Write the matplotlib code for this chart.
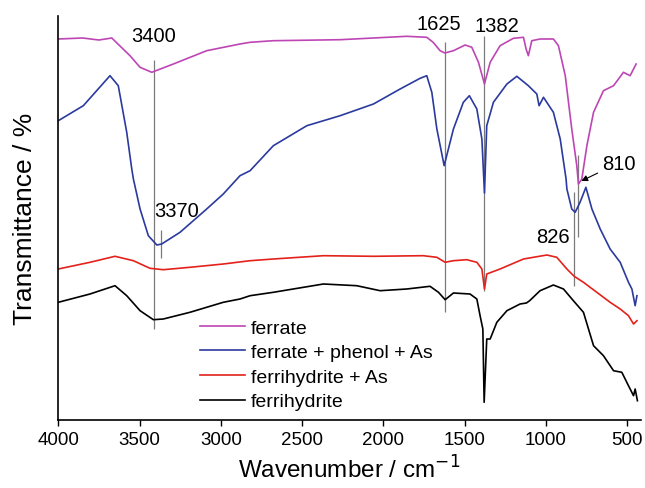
"""FTIR spectra of ferrate / ferrihydrite samples with marked bands"""

import matplotlib
matplotlib.use('Agg')
from matplotlib import pyplot as plt

plt.rcParams['font.family'] = ['Liberation Sans', 'DejaVu Sans']

# wavenumber (cm-1) and transmittance (arbitrary, offset traces)
ferrate_wn = [4000, 3850, 3750, 3671, 3559, 3497, 3425, 3292, 3087, 2882, 2820, 2677,
              2266, 1856, 1733, 1694, 1651, 1622, 1569, 1497, 1456, 1415, 1378, 1343,
              1282, 1200, 1138, 1122, 1108, 1087, 1036, 954, 923, 881, 841, 810, 800,
              779, 748, 707, 646, 584, 523, 482, 445]
ferrate_t = [386, 387, 385, 387, 369.3, 357.7, 352.7, 361, 374.3, 381, 382.7, 384.3,
             385.3, 388.7, 387.7, 382.7, 374.3, 372, 374.3, 380, 377.7, 362.7, 341, 362.7,
             379.3, 386.7, 387.7, 376, 369.3, 384.3, 386, 386, 379.3, 349.3, 296, 259.3, 241,
             246, 279.3, 312.7, 334.3, 339.3, 352.7, 349.3, 361]

phenol_wn = [4000, 3846, 3764, 3682, 3631, 3579, 3548, 3538, 3497, 3446, 3394, 3364,
             3251, 3087, 2985, 2882, 2820, 2677, 2471, 2266, 2061, 1897, 1774, 1733,
             1702, 1671, 1626, 1569, 1508, 1471, 1425, 1394, 1378, 1364, 1323, 1240,
             1179, 1108, 1056, 1042, 1015, 954, 912, 876, 871, 841, 820, 790, 754, 717,
             666, 605, 543, 492, 471, 451, 440]
phenol_t = [304.3, 319.3, 334.3, 349.3, 339.3, 292.7, 256, 246, 216, 189.3, 180, 181,
            192.7, 216, 231, 249.3, 254.3, 279.3, 299.3, 309.3, 321, 336, 346.7, 349.3,
            332.7, 296, 259.3, 296, 322.7, 329.3, 316, 286, 232, 299.3, 322.7, 341,
            348.7, 339.3, 331, 319.3, 327.7, 312.7, 286, 246, 236, 216, 212.7, 222.7, 237.7, 216,
            196, 176, 162.7, 142.7, 136, 119.3, 129.3]

fhy_as_wn = [4000, 3805, 3651, 3538, 3436, 3354, 3190, 2985, 2820, 2677, 2369, 2061,
             1754, 1671, 1620, 1569, 1487, 1425, 1394, 1378, 1364, 1282, 1138, 994, 933,
             871, 826, 769, 687, 605, 543, 492, 461, 440]
fhy_as_t = [156, 162.7, 168.7, 164.3, 156.7, 155.3, 157.7, 161, 164.3, 166, 169.3, 168.7,
            169.3, 167.7, 162.7, 164.3, 165.3, 162.7, 156, 136, 151, 156, 166, 170, 167.7,
            156, 148.7, 142.7, 132.7, 122.7, 116, 109.3, 101, 104.3]

fhy_wn = [4000, 3805, 3651, 3579, 3497, 3415, 3354, 3190, 2985, 2882, 2820, 2677, 2369,
          2164, 2020, 1856, 1713, 1661, 1620, 1569, 1467, 1425, 1405, 1388, 1380, 1364,
          1343, 1302, 1240, 1159, 1120, 1100, 1036, 954, 892, 831, 769, 738, 707, 646,
          584, 533, 492, 461, 451, 437]
fhy_t = [122.7, 131, 139.3, 129.3, 114.3, 105.3, 106, 112.7, 122.7, 126, 129.3, 132.7, 141,
         139.3, 134.3, 136, 138.7, 132.7, 125.3, 132, 131, 126, 109.3, 96, 22.7, 86,
         86, 102.7, 114.3, 121, 122, 124.3, 134.3, 140, 136, 124.3, 112.7, 96, 79.3, 69.3,
         54.3, 52.7, 39.3, 29.3, 36, 24.3]

labels = ['ferrate', 'ferrate + phenol + As', 'ferrihydrite + As', 'ferrihydrite']
colors = ['#be46b4', '#2a3a9e', '#e3221b', 'black']

# band marker lines: (wavenumber, bottom, top)
band_lines = [(3410, 96, 365), (3368, 167, 195), (1622, 113, 383), (1380, 134, 389),
              (826, 139, 233), (800, 188, 270)]
# band labels: (text, wavenumber, height)
band_text = [('3400', 3415, 389), ('3370', 3272, 214), ('1625', 1660, 402),
             ('1382', 1302, 400), ('826', 954, 188)]

if __name__ == "__main__":
    fig = plt.figure(figsize=(6.45, 4.89), dpi=100)
    ax = fig.add_axes([58.3 / 645, 1 - 421 / 489, 582.7 / 645, 404 / 489])

    for wn, t, lab, col in zip([ferrate_wn, phenol_wn, fhy_as_wn, fhy_wn],
                               [ferrate_t, phenol_t, fhy_as_t, fhy_t], labels, colors):
        ax.plot(wn, t, color=col, lw=1.2, label=lab)

    for wn, lo, hi in band_lines:
        ax.vlines(wn, lo, hi, color='#7a7a7a', lw=0.9, zorder=0)

    for txt, wn, h in band_text:
        ax.text(wn, h, txt, ha='center', va='center', fontsize=14.5)

    ax.annotate('810', xy=(782, 244), xytext=(554, 262), ha='center', va='center',
                fontsize=14.5,
                arrowprops=dict(arrowstyle='-|>', color='black', lw=0.8,
                                mutation_scale=9, shrinkA=1, shrinkB=0))

    ax.set_xlim(4000, 415)
    ax.set_ylim(5, 409)
    ax.set_xticks([4000, 3500, 3000, 2500, 2000, 1500, 1000, 500])
    ax.set_yticks([])
    ax.spines['top'].set_visible(False)
    ax.spines['right'].set_visible(False)
    ax.spines['left'].set_linewidth(1.2)
    ax.spines['bottom'].set_linewidth(1.2)
    ax.tick_params(axis='x', direction='out', length=4, width=1, pad=4, labelsize=13.5)

    ax.set_xlabel('Wavenumber / cm$^{-1}$', fontsize=17.5, labelpad=5)
    ax.set_ylabel('Transmittance / %', fontsize=19)
    ax.yaxis.set_label_coords(-0.037, 0.5)

    ax.legend(loc='upper left', bbox_to_anchor=((200 - 58.3) / 582.7, (421 - 320) / 404),
              frameon=False, fontsize=14, handlelength=2.3, handletextpad=0.3,
              labelspacing=0.36, borderpad=0, borderaxespad=0)

    plt.savefig('out.png', dpi=100)
